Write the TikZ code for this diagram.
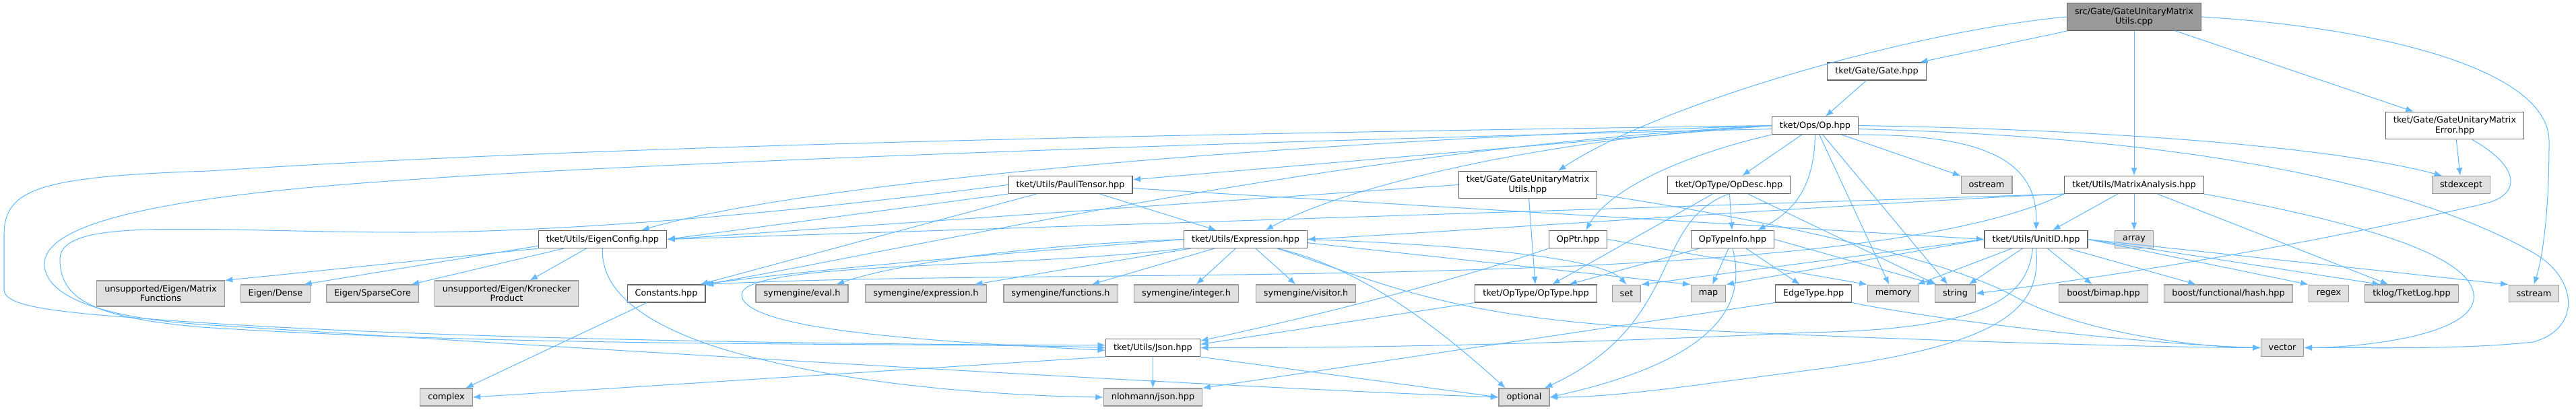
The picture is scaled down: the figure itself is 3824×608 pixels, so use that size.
\documentclass[tikz,border=0pt]{standalone}
\usepackage{fontspec}
\setmainfont{DejaVu Sans}
\usetikzlibrary{arrows.meta}
\definecolor{edgeblue}{RGB}{99,184,255}
\definecolor{hdrgray}{RGB}{102,102,102}
\definecolor{sysgray}{RGB}{153,153,153}
\definecolor{sysfill}{RGB}{224,224,224}
\definecolor{srcfill}{RGB}{153,153,153}
\tikzset{
  hdr/.style={draw=hdrgray, line width=0.9pt, fill=white, align=center, inner xsep=9pt, inner ysep=5.3pt, minimum height=20pt, font=\fontsize{10}{11.2}\selectfont},
  sysh/.style={hdr, draw=sysgray, fill=sysfill},
  srcfile/.style={hdr, draw=hdrgray, fill=srcfill},
  incl/.style={-{Latex[length=9pt,width=7pt]}, draw=edgeblue, line width=0.8pt}
}

\begin{document}
\begin{tikzpicture}[x=0.78pt, y=-0.78pt]
  \useasboundingbox (0,0) rectangle (3824,608);

  % source file
  \node[srcfile] (cpp) at (3168,25) {src/Gate/GateUnitaryMatrix\\Utils.cpp};

  % project headers
  \node[hdr] (gate) at (2786,106) {tket/Gate/Gate.hpp};
  \node[hdr] (op) at (2694.5,186.5) {tket/Ops/Op.hpp};
  \node[hdr] (gumerr) at (3644,186.5) {tket/Gate/GateUnitaryMatrix\\Error.hpp};
  \node[hdr] (pauli) at (1589,274.5) {tket/Utils/PauliTensor.hpp};
  \node[hdr] (gumu) at (2268,274.5) {tket/Gate/GateUnitaryMatrix\\Utils.hpp};
  \node[hdr] (opdesc) at (2566.5,274.5) {tket/OpType/OpDesc.hpp};
  \node[hdr] (matrixan) at (3168,274.5) {tket/Utils/MatrixAnalysis.hpp};
  \node[hdr] (eigencfg) at (894.5,355.5) {tket/Utils/EigenConfig.hpp};
  \node[hdr] (expr) at (1849,355.5) {tket/Utils/Expression.hpp};
  \node[hdr] (opptr) at (2342.5,355.5) {OpPtr.hpp};
  \node[hdr] (optypeinfo) at (2572,355.5) {OpTypeInfo.hpp};
  \node[hdr] (unitid) at (3022.5,355.5) {tket/Utils/UnitID.hpp};
  \node[hdr] (consts) at (989,436) {Constants.hpp};
  \node[hdr] (optype) at (2280,436) {tket/OpType/OpType.hpp};
  \node[hdr] (edgetype) at (2692,436) {EdgeType.hpp};
  \node[hdr] (json) at (1711.5,516.5) {tket/Utils/Json.hpp};

  % system and library headers
  \node[sysh] (ostream) at (2949,274.5) {ostream};
  \node[sysh] (stdexc) at (3653.5,274.5) {stdexcept};
  \node[sysh] (arraynode) at (3168,355.5) {array};
  \node[sysh] (mfun) at (238.5,436) {unsupported/Eigen/Matrix\\Functions};
  \node[sysh] (dense) at (409,436) {Eigen/Dense};
  \node[sysh] (sparse) at (553,436) {Eigen/SparseCore};
  \node[sysh] (kron) at (752,436) {unsupported/Eigen/Kronecker\\Product};
  \node[sysh] (symeval) at (1190.5,436) {symengine/eval.h};
  \node[sysh] (symexpr) at (1374.5,436) {symengine/expression.h};
  \node[sysh] (symfunc) at (1574.5,436) {symengine/functions.h};
  \node[sysh] (symint) at (1761,436) {symengine/integer.h};
  \node[sysh] (symvisit) at (1938.5,436) {symengine/visitor.h};
  \node[sysh] (setnode) at (2414.5,436) {set};
  \node[sysh] (mapnode) at (2536,436) {map};
  \node[sysh] (memory) at (2810.5,436) {memory};
  \node[sysh] (strnode) at (2902.5,436) {string};
  \node[sysh] (bimap) at (3122.5,436) {boost/bimap.hpp};
  \node[sysh] (hash) at (3308,436) {boost/functional/hash.hpp};
  \node[sysh] (regex) at (3457,436) {regex};
  \node[sysh] (tklog) at (3580,436) {tklog/TketLog.hpp};
  \node[sysh] (sstream) at (3761.5,436) {sstream};
  \node[sysh] (vector) at (3388,516.5) {vector};
  \node[sysh] (nlohmann) at (1711.5,590) {nlohmann/json.hpp};
  \node[sysh] (optional) at (2262.5,590) {optional};
  \node[sysh] (complex) at (662.5,590) {complex};

  % includes of the source file
  \draw[incl] (cpp) -- (gate);
  \draw[incl] (cpp.west) .. controls (2850,45) and (2470,150) .. ([xshift=35pt]gumu.north);
  \draw[incl] (cpp) -- (matrixan);
  \draw[incl] (cpp) -- (gumerr);
  \draw[incl] (cpp.east) .. controls (3520,40) and (3784,100) .. (3784,210) .. controls (3784,330) and (3772,390) .. (sstream.north);

  \draw[incl] (gate) -- (op);

  % Op.hpp
  \draw[incl] (op) -- (ostream);
  \draw[incl] (op.south east) .. controls (2950,200) and (3025,240) .. (unitid.north);
  \draw[incl] (op) -- (memory);
  \draw[incl] (op) -- (strnode);
  \draw[incl] (op.east) .. controls (3100,192) and (3450,215) .. ([xshift=-22pt]stdexc.north);
  \draw[incl] ([yshift=-4pt]op.east) .. controls (3300,205) and (3600,285) .. (3760,375) .. controls (3830,415) and (3830,490) .. (3760,508) .. controls (3650,520) and (3500,516) .. (vector.east);
  \draw[incl] (op.south) .. controls (2693,270) and (2670,310) .. ([xshift=29pt]optypeinfo.north);
  \draw[incl] (op) -- (opdesc);
  \draw[incl] (op.south west) .. controls (2500,230) and (2390,280) .. ([xshift=9pt]opptr.north);
  \draw[incl] (op.west) .. controls (2300,205) and (2000,275) .. ([xshift=23pt]expr.north);
  \draw[incl] (op.west) -- ([yshift=6pt]pauli.east);
  \draw[incl] (op.west) .. controls (1900,210) and (1200,270) .. ([xshift=45pt]eigencfg.north);
  \draw[incl] (op.west) .. controls (2000,220) and (1400,360) .. (consts.north east);
  \draw[incl] (op.west) .. controls (1800,198) and (900,215) .. (310,254) .. controls (60,262) and (6,280) .. (6,349) -- (6,430) .. controls (6,452) and (60,462) .. (200,472) .. controls (600,505) and (1300,512) .. ([yshift=3pt]json.west);
  \draw[incl] ([yshift=-4pt]op.west) .. controls (1800,210) and (900,245) .. (608,267) .. controls (250,290) and (66,330) .. (66,392) .. controls (66,440) and (150,472) .. (300,482) .. controls (900,520) and (1800,575) .. (optional.west);

  % GateUnitaryMatrixUtils.hpp
  \draw[incl] (gumu) -- (optype);
  \draw[incl] (gumu.west) -- (eigencfg.east);
  \draw[incl] ([yshift=-11pt]gumu.east) .. controls (2650,330) and (2900,390) .. (2990,440) .. controls (3080,490) and (3250,516) .. (vector.west);

  % GateUnitaryMatrixError.hpp
  \draw[incl] (gumerr) -- (stdexc);
  \draw[incl] ([xshift=20pt]gumerr.south) .. controls (3745,250) and (3740,290) .. (3690,302) .. controls (3400,370) and (3100,415) .. (strnode.east);

  % MatrixAnalysis.hpp
  \draw[incl] (matrixan) -- (arraynode);
  \draw[incl] (matrixan) -- (unitid);
  \draw[incl] (matrixan) -- (tklog);
  \draw[incl] (matrixan.south east) .. controls (3500,330) and (3680,380) .. (3672,445) .. controls (3664,500) and (3500,516) .. (vector.east);
  \draw[incl] (matrixan.south west) .. controls (2800,300) and (2300,335) .. (expr.east);
  \draw[incl] (matrixan.south west) -- (eigencfg.east);
  \draw[incl] (matrixan.south west) .. controls (2750,440) and (1600,395) .. (consts.north east);

  % PauliTensor.hpp
  \draw[incl] (pauli) -- (expr);
  \draw[incl] ([yshift=-4pt]pauli.east) -- (unitid.west);
  \draw[incl] (pauli) -- (consts);
  \draw[incl] (pauli.south west) -- (eigencfg.east);
  \draw[incl] (pauli.west) .. controls (1300,300) and (900,345) .. (608,345) .. controls (300,345) and (89,320) .. (89,385) .. controls (89,445) and (140,472) .. (300,486) .. controls (800,518) and (1400,508) .. (json.west);

  % EigenConfig.hpp
  \draw[incl] (eigencfg.south west) -- (mfun.north east);
  \draw[incl] ([yshift=3pt]eigencfg.south west) -- ([xshift=-8pt]dense.north east);
  \draw[incl] (eigencfg) -- (sparse);
  \draw[incl] (eigencfg) -- (kron);
  \draw[incl] (eigencfg.south) .. controls (890,450) and (1000,505) .. (1144,537) .. controls (1300,575) and (1500,588) .. (nlohmann.west);

  % Expression.hpp
  \draw[incl] (expr.west) .. controls (1500,365) and (1320,395) .. ([xshift=-14pt]symeval.north east);
  \draw[incl] (expr) -- ([xshift=-14pt]symexpr.north east);
  \draw[incl] (expr) -- (symfunc);
  \draw[incl] (expr) -- (symint);
  \draw[incl] (expr) -- (symvisit);
  \draw[incl] (expr.west) .. controls (1550,372) and (1250,395) .. ([xshift=-4pt]consts.north east);
  \draw[incl] (expr.south west) .. controls (1500,400) and (1100,388) .. (1101,438) .. controls (1103,492) and (1400,508) .. ([yshift=-3pt]json.west);
  \draw[incl] ([xshift=37pt]expr.south) .. controls (2030,400) and (2150,500) .. ([xshift=8pt]optional.north west);
  \draw[incl] ([xshift=37pt]expr.south) .. controls (2050,420) and (2150,470) .. (2450,487) .. controls (2800,505) and (3200,516) .. (vector.west);
  \draw[incl] (expr.east) .. controls (2200,365) and (2380,385) .. (setnode.north);
  \draw[incl] ([yshift=-4pt]expr.east) -- (mapnode.north west);

  % OpPtr.hpp
  \draw[incl] (opptr.south west) .. controls (2150,420) and (1950,470) .. ([yshift=8pt]json.east);
  \draw[incl] (opptr.east) -- (memory.north west);

  % OpDesc.hpp
  \draw[incl] (opdesc) -- (optype);
  \draw[incl] (opdesc.south) .. controls (2450,330) and (2500,480) .. ([xshift=-6pt]optional.north east);
  \draw[incl] (opdesc) -- (optypeinfo);
  \draw[incl] (opdesc) -- (strnode);

  % OpTypeInfo.hpp
  \draw[incl] (optypeinfo) -- (optype);
  \draw[incl] (optypeinfo) -- (mapnode);
  \draw[incl] (optypeinfo.south) .. controls (2590,440) and (2570,530) .. (optional.east);
  \draw[incl] (optypeinfo) -- (edgetype);
  \draw[incl] (optypeinfo.east) -- (strnode.north west);

  % EdgeType.hpp, OpType.hpp
  \draw[incl] (edgetype.south west) -- (nlohmann.north east);
  \draw[incl] (edgetype.south east) .. controls (2900,480) and (3200,512) .. (vector.west);
  \draw[incl] (optype.south west) -- ([yshift=4pt]json.east);

  % UnitID.hpp
  \draw[incl] (unitid.west) -- (mapnode.north east);
  \draw[incl] (unitid.west) -- (setnode.north east);
  \draw[incl] (unitid) -- (memory);
  \draw[incl] (unitid) -- (strnode);
  \draw[incl] ([xshift=-4pt]unitid.south) .. controls (3010,450) and (2930,490) .. (2680,494) .. controls (2300,512) and (2000,517) .. (json.east);
  \draw[incl] (unitid.south) .. controls (3030,450) and (2990,510) .. (2700,548) .. controls (2500,574) and (2400,590) .. (optional.east);
  \draw[incl] (unitid) -- (bimap);
  \draw[incl] (unitid) -- (hash);
  \draw[incl] (unitid.east) -- (regex.north west);
  \draw[incl] (unitid.east) -- ([xshift=18pt]tklog.north west);
  \draw[incl] (unitid.east) -- (sstream.north west);

  % Json.hpp, Constants.hpp
  \draw[incl] (json) -- (nlohmann);
  \draw[incl] (json.south east) -- (optional.west);
  \draw[incl] (json.south west) -- (complex.east);
  \draw[incl] (consts) -- (complex);
\end{tikzpicture}
\end{document}
